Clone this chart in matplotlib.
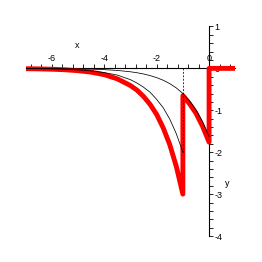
import numpy as np
from matplotlib import pyplot as plt
from matplotlib.ticker import MultipleLocator

plt.rcParams['font.family'] = ['Liberation Sans', 'DejaVu Sans']

# thick red curve (piecewise)
red_x = [-7, -6.5, -6, -5.5, -5, -4.5, -4, -3.5, -3, -2.75, -2.5, -2.25, -2, -1.75, -1.5, -1.25, -1,
         -1, -0.75, -0.5, -0.25, 0,
         0, 1]
red_y = [-0.007, -0.012, -0.02, -0.033, -0.055, -0.09, -0.15, -0.25, -0.41, -0.52, -0.67, -0.86, -1.10, -1.42, -1.82, -2.34, -3.0,
         -0.65, -0.84, -1.07, -1.38, -1.76,
         0, 0]

# thin black curve, lower branch (ends at x=-1)
low_x = [-7, -6.5, -6, -5.5, -5, -4.5, -4, -3.5, -3, -2.75, -2.5, -2.25, -2, -1.75, -1.5, -1.25, -1]
low_y = [-0.005, -0.008, -0.013, -0.022, -0.037, -0.06, -0.10, -0.16, -0.27, -0.35, -0.45, -0.57, -0.74, -0.94, -1.21, -1.56, -2.0]

# thin black curve, upper branch (runs to x=0)
up_x = [-7, -6.5, -6, -5.5, -5, -4.5, -4, -3.5, -3, -2.75, -2.5, -2.25, -2, -1.75, -1.5, -1.25, -1,
        -0.75, -0.5, -0.25, 0]
up_y = [-0.0015, -0.0025, -0.004, -0.0067, -0.011, -0.018, -0.03, -0.049, -0.081, -0.104, -0.134, -0.172, -0.221, -0.283, -0.364, -0.467, -0.6,
        -0.77, -0.99, -1.27, -1.63]

# dashed jump marker at x=-1
dash_x = [-1, -1]
dash_y = [0, -2.0]

fig = plt.figure(figsize=(2.62, 2.62), dpi=100)
ax = fig.add_axes([0.098, 0.099, 0.8, 0.8])

ax.plot(red_x, red_y, color='red', lw=3.5, solid_joinstyle='round', zorder=2)
ax.plot(low_x, low_y, color='black', lw=0.55, zorder=3)
ax.plot(up_x, up_y, color='black', lw=0.55, zorder=3)
ax.plot(dash_x, dash_y, color='black', lw=0.55, ls=(0, (2.5, 2)), zorder=3)

ax.set_xlim(-7, 1)
ax.set_ylim(-4, 1)

# axes crossing at the origin, labels above / right
ax.spines['bottom'].set_visible(False)
ax.spines['left'].set_visible(False)
ax.spines['top'].set_position(('data', 0))
ax.spines['right'].set_position(('data', 0))
for s in ('top', 'right'):
    ax.spines[s].set_linewidth(0.8)
    ax.spines[s].set_zorder(1)

ax.xaxis.set_ticks_position('top')
ax.yaxis.set_ticks_position('right')
ax.xaxis.set_major_locator(MultipleLocator(2))
ax.xaxis.set_minor_locator(MultipleLocator(0.4))
ax.yaxis.set_major_locator(MultipleLocator(1))
ax.yaxis.set_minor_locator(MultipleLocator(0.2))
ax.tick_params(which='both', direction='out', length=3, width=0.6, labelsize=6.5, pad=1)
ax.set_xticks([-6, -4, -2, 0])
ax.set_xticklabels(['-6', '-4', '-2', '0'])
ax.set_yticks([-4, -3, -2, -1, 0, 1])
ax.set_yticklabels(['-4', '-3', '-2', '-1', '0', '1'])

ax.text(-5.05, 0.55, 'x', fontsize=6.5, ha='center', va='center')
ax.text(0.7, -2.74, 'y', fontsize=6.5, ha='center', va='center')

ax.patch.set_visible(False)
fig.savefig('out.png', dpi=100)
